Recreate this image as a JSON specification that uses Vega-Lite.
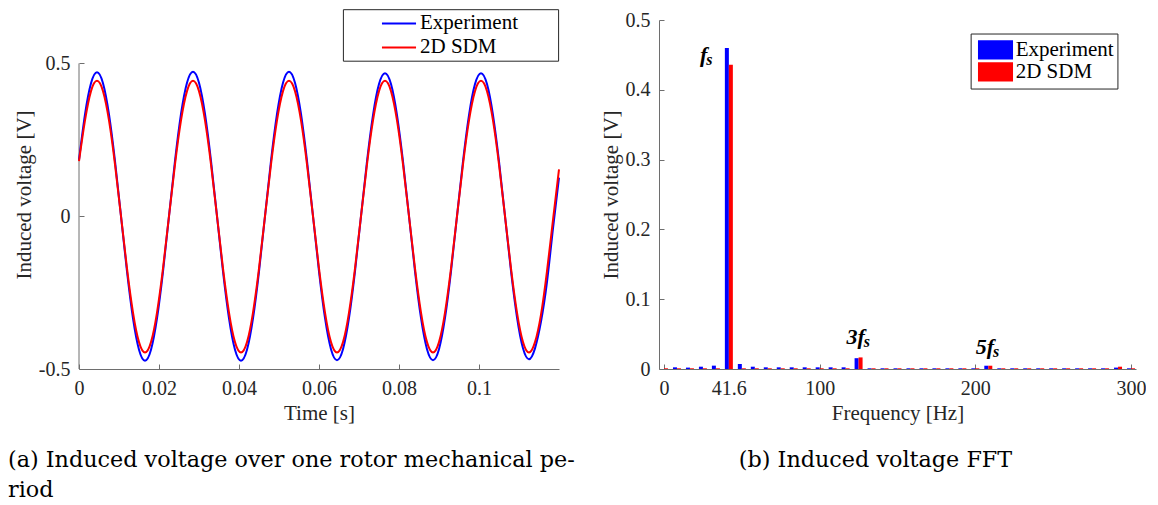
{
  "$schema": "https://vega.github.io/schema/vega-lite/v6.json",
  "background": "white",
  "padding": {"left": 8, "top": 9, "right": 0, "bottom": 0},
  "bounds": "flush",
  "spacing": 100,
  "resolve": {"scale": {"color": "independent"}, "legend": {"color": "independent"}},
  "config": {
    "view": {"stroke": null},
    "axis": {
      "labelFont": "Liberation Serif", "labelFontSize": 20, "labelColor": "#262626",
      "titleFont": "Liberation Serif", "titleFontSize": 21, "titleFontWeight": "normal", "titleColor": "#262626",
      "domainColor": "#6e6e6e", "tickColor": "#6e6e6e", "tickSize": -5, "labelPadding": 14,
      "grid": false, "labelFlush": false, "labelOverlap": false, "titlePadding": 4
    },
    "legend": {"labelFont": "Liberation Serif", "labelFontSize": 21, "labelColor": "black"}
  },
  "datasets": {
    "one": [{}],
    "exp_t": [
      {"t":0,"v":0.184},{"t":0.0015,"v":0.333},{"t":0.003,"v":0.4351},{"t":0.0045,"v":0.471},{"t":0.006,"v":0.4351},{"t":0.0075,"v":0.333},{"t":0.009,"v":0.1802},{"t":0.0105,"v":0},
      {"t":0.012,"v":-0.181},{"t":0.0135,"v":-0.3345},{"t":0.015,"v":-0.437},{"t":0.0165,"v":-0.473},{"t":0.018,"v":-0.437},{"t":0.0195,"v":-0.3345},{"t":0.021,"v":-0.181},{"t":0.0225,"v":0},
      {"t":0.024,"v":0.181},{"t":0.0255,"v":0.3345},{"t":0.027,"v":0.437},{"t":0.0285,"v":0.473},{"t":0.03,"v":0.437},{"t":0.0315,"v":0.3345},{"t":0.033,"v":0.181},{"t":0.0345,"v":0},
      {"t":0.036,"v":-0.181},{"t":0.0375,"v":-0.3345},{"t":0.039,"v":-0.437},{"t":0.0405,"v":-0.473},{"t":0.042,"v":-0.437},{"t":0.0435,"v":-0.3345},{"t":0.045,"v":-0.181},{"t":0.0465,"v":0},
      {"t":0.048,"v":0.181},{"t":0.0495,"v":0.3345},{"t":0.051,"v":0.437},{"t":0.0525,"v":0.473},{"t":0.054,"v":0.437},{"t":0.0555,"v":0.3345},{"t":0.057,"v":0.181},{"t":0.0585,"v":0},
      {"t":0.06,"v":-0.1802},{"t":0.0615,"v":-0.333},{"t":0.063,"v":-0.4351},{"t":0.0645,"v":-0.471},{"t":0.066,"v":-0.4351},{"t":0.0675,"v":-0.333},{"t":0.069,"v":-0.1802},{"t":0.0705,"v":0},
      {"t":0.072,"v":0.1791},{"t":0.0735,"v":0.3309},{"t":0.075,"v":0.4324},{"t":0.0765,"v":0.468},{"t":0.078,"v":0.4324},{"t":0.0795,"v":0.3309},{"t":0.081,"v":0.1791},{"t":0.0825,"v":0},
      {"t":0.084,"v":-0.1802},{"t":0.0855,"v":-0.333},{"t":0.087,"v":-0.4351},{"t":0.0885,"v":-0.471},{"t":0.09,"v":-0.4351},{"t":0.0915,"v":-0.333},{"t":0.093,"v":-0.1802},{"t":0.0945,"v":0},
      {"t":0.096,"v":0.1791},{"t":0.0975,"v":0.3309},{"t":0.099,"v":0.4324},{"t":0.1005,"v":0.468},{"t":0.102,"v":0.4324},{"t":0.1035,"v":0.3309},{"t":0.105,"v":0.1791},{"t":0.1065,"v":0},
      {"t":0.108,"v":-0.1791},{"t":0.1095,"v":-0.3309},{"t":0.111,"v":-0.4324},{"t":0.1125,"v":-0.468},{"t":0.114,"v":-0.4324},{"t":0.1155,"v":-0.345},{"t":0.117,"v":-0.215},{"t":0.1185,"v":-0.04},
      {"t":0.12,"v":0.126}
    ],
    "sdm_t": [
      {"t":0,"v":0.18},{"t":0.0015,"v":0.3133},{"t":0.003,"v":0.4093},{"t":0.0045,"v":0.443},{"t":0.006,"v":0.4093},{"t":0.0075,"v":0.3133},{"t":0.009,"v":0.1695},{"t":0.0105,"v":0},
      {"t":0.012,"v":-0.1707},{"t":0.0135,"v":-0.3154},{"t":0.015,"v":-0.4121},{"t":0.0165,"v":-0.446},{"t":0.018,"v":-0.4121},{"t":0.0195,"v":-0.3154},{"t":0.021,"v":-0.1707},{"t":0.0225,"v":0},
      {"t":0.024,"v":0.1695},{"t":0.0255,"v":0.3133},{"t":0.027,"v":0.4093},{"t":0.0285,"v":0.443},{"t":0.03,"v":0.4093},{"t":0.0315,"v":0.3133},{"t":0.033,"v":0.1695},{"t":0.0345,"v":0},
      {"t":0.036,"v":-0.1707},{"t":0.0375,"v":-0.3154},{"t":0.039,"v":-0.4121},{"t":0.0405,"v":-0.446},{"t":0.042,"v":-0.4121},{"t":0.0435,"v":-0.3154},{"t":0.045,"v":-0.1707},{"t":0.0465,"v":0},
      {"t":0.048,"v":0.1695},{"t":0.0495,"v":0.3133},{"t":0.051,"v":0.4093},{"t":0.0525,"v":0.443},{"t":0.054,"v":0.4093},{"t":0.0555,"v":0.3133},{"t":0.057,"v":0.1695},{"t":0.0585,"v":0},
      {"t":0.06,"v":-0.1707},{"t":0.0615,"v":-0.3154},{"t":0.063,"v":-0.4121},{"t":0.0645,"v":-0.446},{"t":0.066,"v":-0.4121},{"t":0.0675,"v":-0.3154},{"t":0.069,"v":-0.1707},{"t":0.0705,"v":0},
      {"t":0.072,"v":0.1695},{"t":0.0735,"v":0.3133},{"t":0.075,"v":0.4093},{"t":0.0765,"v":0.443},{"t":0.078,"v":0.4093},{"t":0.0795,"v":0.3133},{"t":0.081,"v":0.1695},{"t":0.0825,"v":0},
      {"t":0.084,"v":-0.1707},{"t":0.0855,"v":-0.3154},{"t":0.087,"v":-0.4121},{"t":0.0885,"v":-0.446},{"t":0.09,"v":-0.4121},{"t":0.0915,"v":-0.3154},{"t":0.093,"v":-0.1707},{"t":0.0945,"v":0},
      {"t":0.096,"v":0.1695},{"t":0.0975,"v":0.3133},{"t":0.099,"v":0.4093},{"t":0.1005,"v":0.443},{"t":0.102,"v":0.4093},{"t":0.1035,"v":0.3133},{"t":0.105,"v":0.1695},{"t":0.1065,"v":0},
      {"t":0.108,"v":-0.1707},{"t":0.1095,"v":-0.3154},{"t":0.111,"v":-0.4121},{"t":0.1125,"v":-0.446},{"t":0.114,"v":-0.4121},{"t":0.1155,"v":-0.322},{"t":0.117,"v":-0.18},{"t":0.1185,"v":-0.012},
      {"t":0.12,"v":0.153}
    ],
    "fft_exp": [
      {"f":0,"v":0},{"f":8.33,"v":0.0024},{"f":16.67,"v":0.002},{"f":25,"v":0.0033},{"f":33.33,"v":0.0048},{"f":41.67,"v":0.46},
      {"f":50,"v":0.0072},{"f":58.33,"v":0.0033},{"f":66.67,"v":0.0024},{"f":75,"v":0.0024},{"f":83.33,"v":0.0024},{"f":91.67,"v":0.0024},
      {"f":100,"v":0.0024},{"f":108.33,"v":0.0024},{"f":116.67,"v":0.0024},{"f":125,"v":0.0155},{"f":133.33,"v":0.001},{"f":141.67,"v":0.001},
      {"f":150,"v":0.001},{"f":158.33,"v":0.001},{"f":166.67,"v":0.001},{"f":175,"v":0.001},{"f":183.33,"v":0.001},{"f":191.67,"v":0.001},
      {"f":200,"v":0.001},{"f":208.33,"v":0.0047},{"f":216.67,"v":0.001},{"f":225,"v":0.001},{"f":233.33,"v":0.001},{"f":241.67,"v":0.001},
      {"f":250,"v":0.001},{"f":258.33,"v":0.001},{"f":266.67,"v":0.001},{"f":275,"v":0.001},{"f":283.33,"v":0.001},{"f":291.67,"v":0.002},{"f":300,"v":0.001}
    ],
    "fft_sdm": [
      {"f":0,"v":0.001},{"f":8.33,"v":0.001},{"f":16.67,"v":0.001},{"f":25,"v":0.001},{"f":33.33,"v":0.001},{"f":41.67,"v":0.436},
      {"f":50,"v":0.001},{"f":58.33,"v":0.001},{"f":66.67,"v":0.001},{"f":75,"v":0.001},{"f":83.33,"v":0.001},{"f":91.67,"v":0.001},
      {"f":100,"v":0.001},{"f":108.33,"v":0.001},{"f":116.67,"v":0.001},{"f":125,"v":0.0166},{"f":133.33,"v":0.001},{"f":141.67,"v":0.001},
      {"f":150,"v":0.001},{"f":158.33,"v":0.001},{"f":166.67,"v":0.001},{"f":175,"v":0.001},{"f":183.33,"v":0.001},{"f":191.67,"v":0.001},
      {"f":200,"v":0.001},{"f":208.33,"v":0.0047},{"f":216.67,"v":0.001},{"f":225,"v":0.001},{"f":233.33,"v":0.001},{"f":241.67,"v":0.001},
      {"f":250,"v":0.001},{"f":258.33,"v":0.001},{"f":266.67,"v":0.001},{"f":275,"v":0.001},{"f":283.33,"v":0.001},{"f":291.67,"v":0.0033},{"f":300,"v":0.001}
    ],
    "labels": [
      {"f":27.8,"v":0.4403,"main":"f","sub":"s"},
      {"f":129.0,"v":0.0362,"main":"3f","sub":"s"},
      {"f":212.0,"v":0.022,"main":"5f","sub":"s"}
    ]
  },
  "hconcat": [
    {
      "width": 480,
      "height": 349,
      "title": {
        "text": ["(a) Induced voltage over one rotor mechanical pe-", "riod"],
        "orient": "bottom", "anchor": "start", "frame": "group", "dx": -71, "offset": 26,
        "font": "DejaVu Serif", "fontSize": 22.3, "fontWeight": "normal", "color": "black", "lineHeight": 30
      },
      "layer": [
        {
          "data": {"name": "one"},
          "mark": {"type": "rule", "color": "#6e6e6e", "strokeWidth": 1},
          "encoding": {
            "x": {"datum": 0, "type": "quantitative"},
            "y": {"datum": -0.5, "type": "quantitative"},
            "y2": {"datum": 0.5}
          }
        },
        {
          "data": {"name": "exp_t"},
          "mark": {"type": "line", "interpolate": "natural", "strokeWidth": 2},
          "encoding": {
            "x": {"field": "t", "type": "quantitative", "title": "Time [s]",
              "scale": {"domain": [0, 0.12], "nice": false, "zero": false},
              "axis": {"values": [0, 0.02, 0.04, 0.06, 0.08, 0.1], "labelExpr": "format(datum.value, '~g')"}},
            "y": {"field": "v", "type": "quantitative", "title": "Induced voltage [V]",
              "scale": {"domain": [-0.5, 0.642], "nice": false, "zero": false},
              "axis": {"values": [-0.5, 0, 0.5], "domain": false, "labelExpr": "replace(format(datum.value, '~g'), '\u2212', '-')"}},
            "color": {"datum": "Experiment", "type": "nominal",
              "scale": {"domain": ["Experiment", "2D SDM"], "range": ["#0000ff", "#ff0000"]},
              "legend": {"title": null, "orient": "none", "legendX": 307, "legendY": -9.6,
                "symbolType": "M-1.42,0H1.42", "symbolSize": 576, "symbolStrokeWidth": 2,
                "labelOffset": 8, "rowPadding": 1, "padding": 0}}
          }
        },
        {
          "data": {"name": "sdm_t"},
          "mark": {"type": "line", "interpolate": "natural", "strokeWidth": 2},
          "encoding": {
            "x": {"field": "t", "type": "quantitative", "title": "Time [s]"},
            "y": {"field": "v", "type": "quantitative", "title": "Induced voltage [V]"},
            "color": {"datum": "2D SDM", "type": "nominal"}
          }
        },
        {
          "data": {"name": "one"},
          "mark": {"type": "rect", "fill": "white", "stroke": "#262626", "strokeWidth": 1},
          "encoding": {
            "x": {"datum": 0.0661, "type": "quantitative"},
            "x2": {"datum": 0.1199},
            "y": {"datum": 0.6757, "type": "quantitative"},
            "y2": {"datum": 0.5072}
          }
        }
      ]
    },
    {
      "width": 477,
      "height": 349,
      "title": {
        "text": "(b) Induced voltage FFT",
        "orient": "bottom", "anchor": "middle", "frame": "group", "dx": -22, "offset": 26,
        "font": "DejaVu Serif", "fontSize": 22.3, "fontWeight": "normal", "color": "black"
      },
      "layer": [
        {
          "data": {"name": "fft_exp"},
          "mark": {"type": "bar", "width": 4, "xOffset": -2},
          "encoding": {
            "x": {"field": "f", "type": "quantitative", "title": "Frequency [Hz]",
              "scale": {"domain": [0, 300], "nice": false, "zero": false},
              "axis": {"values": [0, 41.6, 100, 200, 300], "labelExpr": "format(datum.value, '~g')"}},
            "y": {"field": "v", "type": "quantitative", "title": "Induced voltage [V]",
              "scale": {"domain": [0, 0.5], "nice": false},
              "axis": {"values": [0, 0.1, 0.2, 0.3, 0.4, 0.5], "labelExpr": "format(datum.value, '~g')"}},
            "color": {"datum": "Experiment", "type": "nominal",
              "scale": {"domain": ["Experiment", "2D SDM"], "range": ["#0000ff", "#ff0000"]},
              "legend": {"title": null, "orient": "none", "legendX": 324.5, "legendY": 17.9,
                "symbolType": "M-1.46,-0.8H1.46V0.8H-1.46Z", "symbolSize": 576, "symbolStrokeWidth": 0,
                "labelOffset": 8.2, "rowPadding": 0, "padding": 0}}
          }
        },
        {
          "data": {"name": "fft_sdm"},
          "mark": {"type": "bar", "width": 4, "xOffset": 2},
          "encoding": {
            "x": {"field": "f", "type": "quantitative", "title": "Frequency [Hz]"},
            "y": {"field": "v", "type": "quantitative", "title": "Induced voltage [V]"},
            "color": {"datum": "2D SDM", "type": "nominal"}
          }
        },
        {
          "data": {"name": "one"},
          "mark": {"type": "rect", "fill": "white", "stroke": "#262626", "strokeWidth": 1},
          "encoding": {
            "x": {"datum": 197.3, "type": "quantitative"},
            "x2": {"datum": 291.6},
            "y": {"datum": 0.4799, "type": "quantitative"},
            "y2": {"datum": 0.4011}
          }
        },
        {
          "data": {"name": "labels"},
          "mark": {"type": "text", "align": "right", "baseline": "alphabetic", "font": "Liberation Serif",
            "fontStyle": "italic", "fontWeight": "bold", "fontSize": 22, "color": "black"},
          "encoding": {
            "x": {"field": "f", "type": "quantitative"},
            "y": {"field": "v", "type": "quantitative"},
            "text": {"field": "main"}
          }
        },
        {
          "data": {"name": "labels"},
          "mark": {"type": "text", "align": "left", "baseline": "alphabetic", "font": "Liberation Serif",
            "fontStyle": "italic", "fontWeight": "bold", "fontSize": 16, "dy": 3, "dx": -1, "color": "black"},
          "encoding": {
            "x": {"field": "f", "type": "quantitative"},
            "y": {"field": "v", "type": "quantitative"},
            "text": {"field": "sub"}
          }
        }
      ]
    }
  ]
}
